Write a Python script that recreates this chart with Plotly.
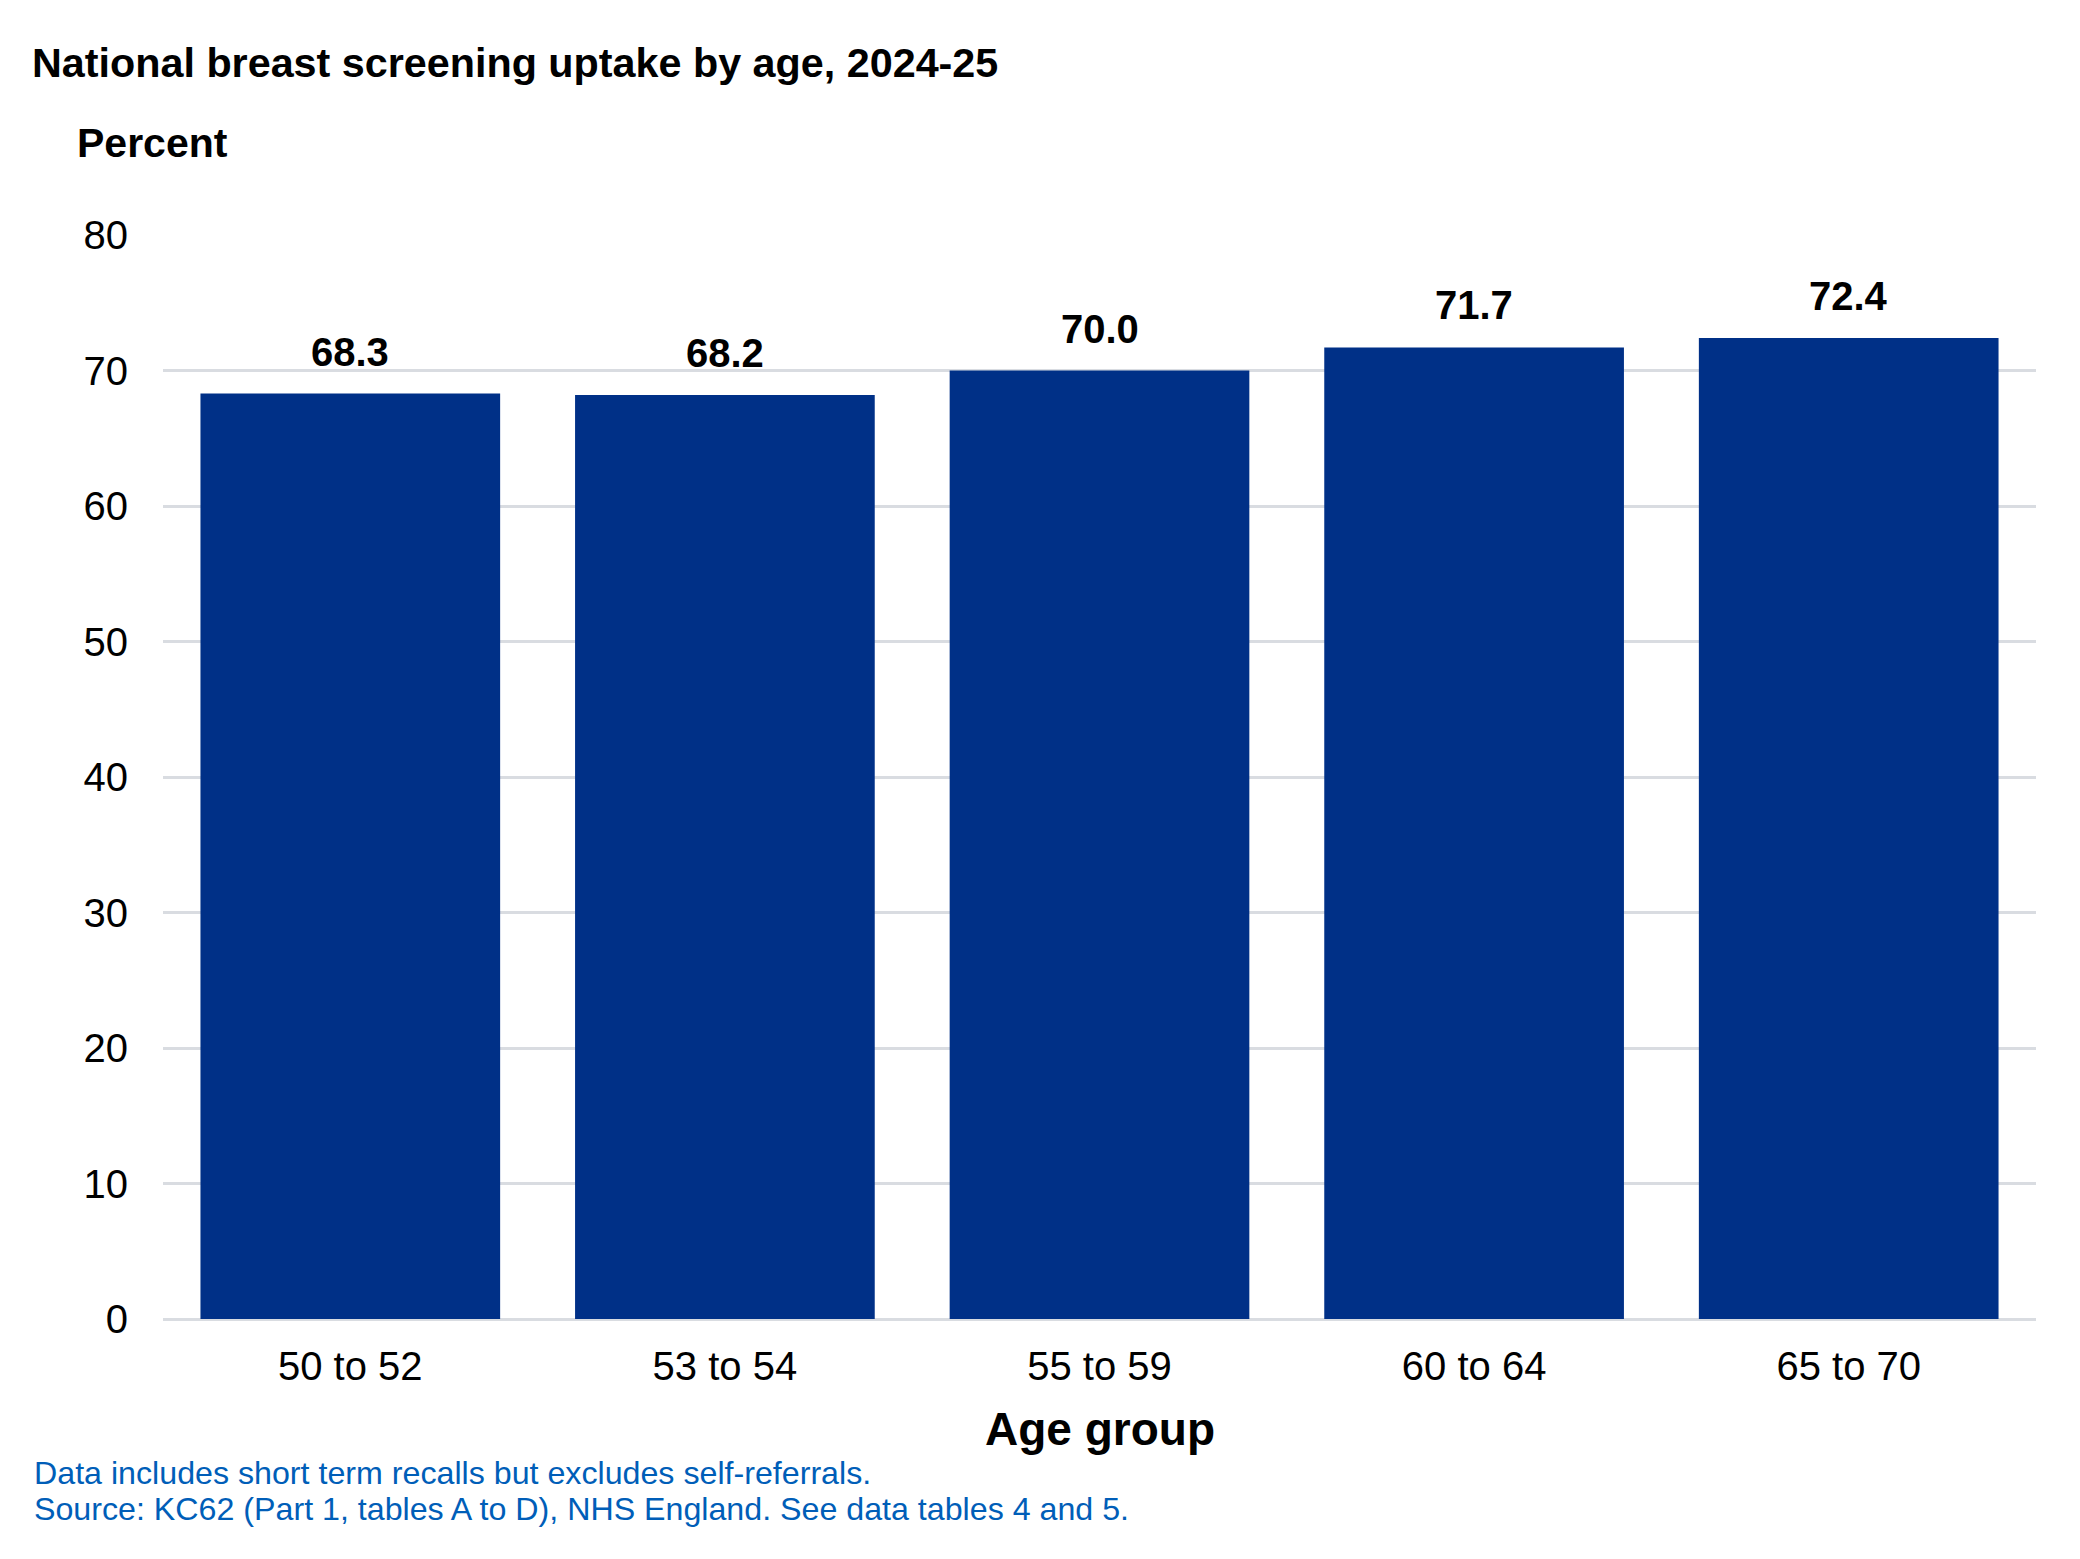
import plotly.graph_objects as go

# --- data
age_groups = ['50 to 52', '53 to 54', '55 to 59', '60 to 64', '65 to 70']
uptake = [68.3, 68.2, 70.0, 71.7, 72.4]
y_ticks = [0, 10, 20, 30, 40, 50, 60, 70, 80]

title_text = 'National breast screening uptake by age, 2024-25'
y_label = 'Percent'
x_label = 'Age group'
notes = ['Data includes short term recalls but excludes self-referrals.',
         'Source: KC62 (Part 1, tables A to D), NHS England. See data tables 4 and 5.']

# --- layout in pixels
W, H = 2080, 1559
m_l, m_r, m_t, m_b = 155, 52, 227, 248
pw, ph = W - m_l - m_r, H - m_t - m_b


def px_x(x):
    return (x - m_l) / pw


def px_y(y):
    return 1 - (y - m_t) / ph


font = 'Liberation Sans, Arial, sans-serif'
bar_col = '#003087'
grid_col = '#d9dce1'
note_col = '#005eb8'

fig = go.Figure()
fig.add_trace(go.Bar(x=age_groups, y=uptake, marker_color=bar_col,
                     marker_line_width=0, hoverinfo='skip'))

# value labels above the bars
for a, v in zip(age_groups, uptake):
    fig.add_annotation(x=a, y=v, text=f'<b>{v:.1f}</b>', showarrow=False,
                       yanchor='bottom', yshift=18,
                       font=dict(family=font, size=40, color='black'))

fig.add_annotation(text=f'<b>{y_label}</b>', xref='paper', yref='paper',
                   x=px_x(67), y=px_y(135), xanchor='left', yanchor='middle',
                   showarrow=False, font=dict(family=font, size=41, color='black'))
fig.add_annotation(text=f'<b>{x_label}</b>', xref='paper', yref='paper',
                   x=0.5, y=px_y(1421), xanchor='center', yanchor='middle',
                   showarrow=False, font=dict(family=font, size=46, color='black'))
for i, n in enumerate(notes):
    fig.add_annotation(text=n, xref='paper', yref='paper',
                       x=px_x(24), y=px_y(1465 + 36 * i), xanchor='left', yanchor='middle',
                       showarrow=False, font=dict(family=font, size=32.2, color=note_col))

fig.update_layout(
    width=W, height=H,
    margin=dict(l=m_l, r=m_r, t=m_t, b=m_b),
    paper_bgcolor='white', plot_bgcolor='white',
    title=dict(text=f'<b>{title_text}</b>', xref='container', yref='container',
               x=24 / W, y=1 - 55 / H, xanchor='left', yanchor='middle',
               font=dict(family=font, size=41.3, color='black')),
    showlegend=False,
    bargap=0.2,
    font=dict(family=font, color='black'),
)
fig.update_yaxes(range=[0, 80], tickvals=y_ticks, showgrid=True, gridcolor=grid_col,
                 gridwidth=2.5, zeroline=True, zerolinecolor=grid_col, zerolinewidth=2.5,
                 showline=False, ticks='', ticklabelstandoff=34,
                 tickfont=dict(family=font, size=40, color='black'))
fig.update_xaxes(showgrid=False, showline=False, ticks='', ticklabelstandoff=20,
                 tickfont=dict(family=font, size=40, color='black'))

fig.write_html('out.html')
